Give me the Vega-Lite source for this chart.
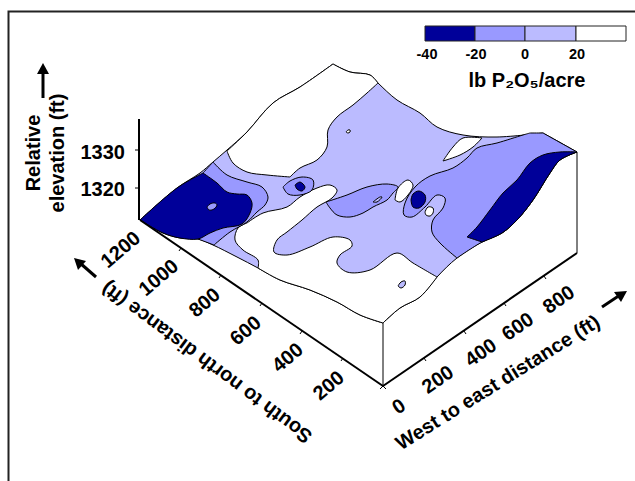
{"$schema":"https://vega.github.io/schema/vega-lite/v6.json","width":635,"height":481,"padding":0,"autosize":{"type":"none"},"background":"white","view":{"stroke":null},
"datasets":{
"regions":[
{"r":"surface","l":"0","n":0,"x":140,"y":220},{"r":"surface","l":"0","n":0.5,"x":140,"y":220},{"r":"surface","l":"0","n":1,"x":177,"y":188},{"r":"surface","l":"0","n":2,"x":200,"y":173},{"r":"surface","l":"0","n":3,"x":213,"y":162},{"r":"surface","l":"0","n":4,"x":227,"y":150},{"r":"surface","l":"0","n":5,"x":247,"y":132},{"r":"surface","l":"0","n":6,"x":273,"y":103},{"r":"surface","l":"0","n":7,"x":300,"y":87},{"r":"surface","l":"0","n":8,"x":333,"y":64},{"r":"surface","l":"0","n":8.5,"x":333,"y":64},{"r":"surface","l":"0","n":9,"x":350,"y":72},{"r":"surface","l":"0","n":10,"x":370,"y":75},{"r":"surface","l":"0","n":11,"x":378,"y":83},{"r":"surface","l":"0","n":12,"x":397,"y":100},{"r":"surface","l":"0","n":13,"x":420,"y":113},{"r":"surface","l":"0","n":14,"x":437,"y":127},{"r":"surface","l":"0","n":15,"x":463,"y":135},{"r":"surface","l":"0","n":16,"x":497,"y":137},{"r":"surface","l":"0","n":17,"x":543,"y":133},{"r":"surface","l":"0","n":17.5,"x":543,"y":133},{"r":"surface","l":"0","n":18,"x":577,"y":152},{"r":"surface","l":"0","n":18.5,"x":577,"y":152},{"r":"surface","l":"0","n":19,"x":560,"y":160},{"r":"surface","l":"0","n":20,"x":550,"y":173},{"r":"surface","l":"0","n":21,"x":533,"y":200},{"r":"surface","l":"0","n":22,"x":517,"y":220},{"r":"surface","l":"0","n":23,"x":502,"y":233},{"r":"surface","l":"0","n":24,"x":482,"y":242},{"r":"surface","l":"0","n":25,"x":457,"y":258},{"r":"surface","l":"0","n":26,"x":437,"y":277},{"r":"surface","l":"0","n":27,"x":420,"y":297},{"r":"surface","l":"0","n":28,"x":400,"y":308},{"r":"surface","l":"0","n":29,"x":383,"y":323},{"r":"surface","l":"0","n":29.5,"x":383,"y":323},{"r":"surface","l":"0","n":30,"x":360,"y":315},{"r":"surface","l":"0","n":31,"x":337,"y":302},{"r":"surface","l":"0","n":32,"x":310,"y":290},{"r":"surface","l":"0","n":33,"x":280,"y":280},{"r":"surface","l":"0","n":34,"x":258,"y":268},{"r":"surface","l":"0","n":35,"x":237,"y":257},{"r":"surface","l":"0","n":36,"x":213,"y":245},{"r":"surface","l":"0","n":37,"x":198,"y":239},{"r":"surface","l":"0","n":38,"x":180,"y":238},{"r":"surface","l":"0","n":39,"x":163,"y":233},{"r":"surface","l":"0","n":40,"x":140,"y":220},
{"r":"backwhite","l":"20","n":0,"x":227,"y":151},{"r":"backwhite","l":"20","n":0.5,"x":227,"y":151},{"r":"backwhite","l":"20","n":1,"x":233,"y":163},{"r":"backwhite","l":"20","n":2,"x":247,"y":172},{"r":"backwhite","l":"20","n":3,"x":267,"y":175},{"r":"backwhite","l":"20","n":4,"x":290,"y":177},{"r":"backwhite","l":"20","n":4.5,"x":290,"y":177},{"r":"backwhite","l":"20","n":5,"x":300,"y":168},{"r":"backwhite","l":"20","n":6,"x":317,"y":160},{"r":"backwhite","l":"20","n":7,"x":327,"y":147},{"r":"backwhite","l":"20","n":8,"x":328,"y":130},{"r":"backwhite","l":"20","n":9,"x":337,"y":117},{"r":"backwhite","l":"20","n":10,"x":353,"y":105},{"r":"backwhite","l":"20","n":11,"x":367,"y":93},{"r":"backwhite","l":"20","n":12,"x":378,"y":83},{"r":"backwhite","l":"20","n":12.5,"x":378,"y":83},{"r":"backwhite","l":"20","n":13,"x":370,"y":75},{"r":"backwhite","l":"20","n":14,"x":350,"y":72},{"r":"backwhite","l":"20","n":15,"x":333,"y":64},{"r":"backwhite","l":"20","n":15.5,"x":333,"y":64},{"r":"backwhite","l":"20","n":16,"x":300,"y":87},{"r":"backwhite","l":"20","n":17,"x":273,"y":103},{"r":"backwhite","l":"20","n":18,"x":247,"y":132},{"r":"backwhite","l":"20","n":19,"x":227,"y":151},
{"r":"frontwhite","l":"20","n":0,"x":247,"y":223},{"r":"frontwhite","l":"20","n":0.5,"x":247,"y":223},{"r":"frontwhite","l":"20","n":1,"x":263,"y":213},{"r":"frontwhite","l":"20","n":2,"x":287,"y":207},{"r":"frontwhite","l":"20","n":3,"x":300,"y":197},{"r":"frontwhite","l":"20","n":4,"x":317,"y":188},{"r":"frontwhite","l":"20","n":5,"x":330,"y":185},{"r":"frontwhite","l":"20","n":6,"x":337,"y":190},{"r":"frontwhite","l":"20","n":7,"x":332,"y":198},{"r":"frontwhite","l":"20","n":8,"x":317,"y":207},{"r":"frontwhite","l":"20","n":9,"x":302,"y":220},{"r":"frontwhite","l":"20","n":10,"x":287,"y":232},{"r":"frontwhite","l":"20","n":11,"x":277,"y":240},{"r":"frontwhite","l":"20","n":12,"x":274,"y":252},{"r":"frontwhite","l":"20","n":13,"x":287,"y":255},{"r":"frontwhite","l":"20","n":14,"x":310,"y":247},{"r":"frontwhite","l":"20","n":15,"x":333,"y":237},{"r":"frontwhite","l":"20","n":16,"x":350,"y":240},{"r":"frontwhite","l":"20","n":17,"x":352,"y":246},{"r":"frontwhite","l":"20","n":18,"x":340,"y":255},{"r":"frontwhite","l":"20","n":19,"x":337,"y":263},{"r":"frontwhite","l":"20","n":20,"x":347,"y":272},{"r":"frontwhite","l":"20","n":21,"x":370,"y":270},{"r":"frontwhite","l":"20","n":22,"x":397,"y":253},{"r":"frontwhite","l":"20","n":23,"x":413,"y":263},{"r":"frontwhite","l":"20","n":24,"x":437,"y":277},{"r":"frontwhite","l":"20","n":24.5,"x":437,"y":277},{"r":"frontwhite","l":"20","n":25,"x":420,"y":297},{"r":"frontwhite","l":"20","n":26,"x":400,"y":308},{"r":"frontwhite","l":"20","n":27,"x":383,"y":323},{"r":"frontwhite","l":"20","n":27.5,"x":383,"y":323},{"r":"frontwhite","l":"20","n":28,"x":360,"y":315},{"r":"frontwhite","l":"20","n":29,"x":337,"y":302},{"r":"frontwhite","l":"20","n":30,"x":310,"y":290},{"r":"frontwhite","l":"20","n":31,"x":280,"y":280},{"r":"frontwhite","l":"20","n":32,"x":258,"y":268},{"r":"frontwhite","l":"20","n":32.5,"x":258,"y":268},{"r":"frontwhite","l":"20","n":33,"x":258,"y":260},{"r":"frontwhite","l":"20","n":34,"x":243,"y":250},{"r":"frontwhite","l":"20","n":35,"x":235,"y":240},{"r":"frontwhite","l":"20","n":36,"x":238,"y":228},{"r":"frontwhite","l":"20","n":37,"x":247,"y":223},
{"r":"westmedium","l":"-20","n":0,"x":203,"y":173},{"r":"westmedium","l":"-20","n":0.5,"x":203,"y":173},{"r":"westmedium","l":"-20","n":1,"x":213,"y":162},{"r":"westmedium","l":"-20","n":1.5,"x":213,"y":162},{"r":"westmedium","l":"-20","n":2,"x":227,"y":175},{"r":"westmedium","l":"-20","n":3,"x":247,"y":182},{"r":"westmedium","l":"-20","n":4,"x":262,"y":187},{"r":"westmedium","l":"-20","n":5,"x":268,"y":197},{"r":"westmedium","l":"-20","n":6,"x":265,"y":205},{"r":"westmedium","l":"-20","n":7,"x":257,"y":212},{"r":"westmedium","l":"-20","n":8,"x":247,"y":222},{"r":"westmedium","l":"-20","n":9,"x":230,"y":232},{"r":"westmedium","l":"-20","n":10,"x":214,"y":245},{"r":"westmedium","l":"-20","n":10.5,"x":214,"y":245},{"r":"westmedium","l":"-20","n":11,"x":198,"y":239},{"r":"westmedium","l":"-20","n":11.5,"x":198,"y":239},{"r":"westmedium","l":"-20","n":12,"x":203,"y":173},
{"r":"westdark","l":"-40","n":0,"x":140,"y":220},{"r":"westdark","l":"-40","n":0.5,"x":140,"y":220},{"r":"westdark","l":"-40","n":1,"x":177,"y":188},{"r":"westdark","l":"-40","n":2,"x":203,"y":173},{"r":"westdark","l":"-40","n":2.5,"x":203,"y":173},{"r":"westdark","l":"-40","n":3,"x":217,"y":183},{"r":"westdark","l":"-40","n":4,"x":227,"y":192},{"r":"westdark","l":"-40","n":5,"x":237,"y":194},{"r":"westdark","l":"-40","n":6,"x":247,"y":195},{"r":"westdark","l":"-40","n":7,"x":252,"y":203},{"r":"westdark","l":"-40","n":8,"x":250,"y":213},{"r":"westdark","l":"-40","n":9,"x":242,"y":224},{"r":"westdark","l":"-40","n":10,"x":223,"y":228},{"r":"westdark","l":"-40","n":11,"x":210,"y":233},{"r":"westdark","l":"-40","n":12,"x":198,"y":239},{"r":"westdark","l":"-40","n":13,"x":180,"y":238},{"r":"westdark","l":"-40","n":14,"x":163,"y":233},{"r":"westdark","l":"-40","n":15,"x":140,"y":220},
{"r":"westeye","l":"-20","n":0,"x":207,"y":207},{"r":"westeye","l":"-20","n":1,"x":210,"y":204},{"r":"westeye","l":"-20","n":2,"x":215,"y":203},{"r":"westeye","l":"-20","n":3,"x":217,"y":205},{"r":"westeye","l":"-20","n":4,"x":214,"y":209},{"r":"westeye","l":"-20","n":5,"x":209,"y":210},{"r":"westeye","l":"-20","n":6,"x":207,"y":207},
{"r":"ring","l":"-20","n":0,"x":283,"y":187},{"r":"ring","l":"-20","n":1,"x":290,"y":181},{"r":"ring","l":"-20","n":2,"x":302,"y":177},{"r":"ring","l":"-20","n":3,"x":313,"y":180},{"r":"ring","l":"-20","n":4,"x":312,"y":190},{"r":"ring","l":"-20","n":5,"x":300,"y":195},{"r":"ring","l":"-20","n":6,"x":288,"y":194},{"r":"ring","l":"-20","n":7,"x":283,"y":187},
{"r":"ringdark","l":"-40","n":0,"x":295,"y":185},{"r":"ringdark","l":"-40","n":1,"x":300,"y":182},{"r":"ringdark","l":"-40","n":2,"x":305,"y":187},{"r":"ringdark","l":"-40","n":3,"x":302,"y":191},{"r":"ringdark","l":"-40","n":4,"x":297,"y":189},{"r":"ringdark","l":"-40","n":5,"x":295,"y":185},
{"r":"midmedium","l":"-20","n":0,"x":326,"y":202},{"r":"midmedium","l":"-20","n":1,"x":347,"y":195},{"r":"midmedium","l":"-20","n":2,"x":367,"y":187},{"r":"midmedium","l":"-20","n":3,"x":387,"y":184},{"r":"midmedium","l":"-20","n":4,"x":398,"y":187},{"r":"midmedium","l":"-20","n":5,"x":393,"y":193},{"r":"midmedium","l":"-20","n":6,"x":387,"y":200},{"r":"midmedium","l":"-20","n":7,"x":373,"y":207},{"r":"midmedium","l":"-20","n":8,"x":363,"y":213},{"r":"midmedium","l":"-20","n":9,"x":350,"y":217},{"r":"midmedium","l":"-20","n":10,"x":337,"y":215},{"r":"midmedium","l":"-20","n":11,"x":330,"y":208},{"r":"midmedium","l":"-20","n":12,"x":326,"y":202},
{"r":"midsliver","l":"0","n":0,"x":373,"y":202},{"r":"midsliver","l":"0","n":1,"x":380,"y":197},{"r":"midsliver","l":"0","n":2,"x":382,"y":197},{"r":"midsliver","l":"0","n":3,"x":377,"y":202},{"r":"midsliver","l":"0","n":4,"x":373,"y":202},
{"r":"eastmedium","l":"-20","n":0,"x":530,"y":133},{"r":"eastmedium","l":"-20","n":1,"x":523,"y":135},{"r":"eastmedium","l":"-20","n":2,"x":497,"y":143},{"r":"eastmedium","l":"-20","n":3,"x":477,"y":148},{"r":"eastmedium","l":"-20","n":4,"x":467,"y":158},{"r":"eastmedium","l":"-20","n":5,"x":453,"y":168},{"r":"eastmedium","l":"-20","n":6,"x":430,"y":176},{"r":"eastmedium","l":"-20","n":7,"x":415,"y":187},{"r":"eastmedium","l":"-20","n":8,"x":405,"y":203},{"r":"eastmedium","l":"-20","n":9,"x":404,"y":215},{"r":"eastmedium","l":"-20","n":10,"x":412,"y":217},{"r":"eastmedium","l":"-20","n":11,"x":425,"y":207},{"r":"eastmedium","l":"-20","n":12,"x":437,"y":195},{"r":"eastmedium","l":"-20","n":13,"x":445,"y":198},{"r":"eastmedium","l":"-20","n":14,"x":443,"y":208},{"r":"eastmedium","l":"-20","n":15,"x":433,"y":220},{"r":"eastmedium","l":"-20","n":16,"x":432,"y":232},{"r":"eastmedium","l":"-20","n":17,"x":440,"y":243},{"r":"eastmedium","l":"-20","n":18,"x":457,"y":258},{"r":"eastmedium","l":"-20","n":18.5,"x":457,"y":258},{"r":"eastmedium","l":"-20","n":19,"x":482,"y":242},{"r":"eastmedium","l":"-20","n":20,"x":502,"y":233},{"r":"eastmedium","l":"-20","n":21,"x":517,"y":220},{"r":"eastmedium","l":"-20","n":22,"x":533,"y":200},{"r":"eastmedium","l":"-20","n":23,"x":550,"y":173},{"r":"eastmedium","l":"-20","n":24,"x":560,"y":160},{"r":"eastmedium","l":"-20","n":25,"x":577,"y":152},{"r":"eastmedium","l":"-20","n":25.5,"x":577,"y":152},{"r":"eastmedium","l":"-20","n":26,"x":543,"y":133},{"r":"eastmedium","l":"-20","n":26.5,"x":543,"y":133},{"r":"eastmedium","l":"-20","n":27,"x":530,"y":133},
{"r":"eastdark","l":"-40","n":0,"x":467,"y":237},{"r":"eastdark","l":"-40","n":0.5,"x":467,"y":237},{"r":"eastdark","l":"-40","n":1,"x":477,"y":227},{"r":"eastdark","l":"-40","n":2,"x":490,"y":210},{"r":"eastdark","l":"-40","n":3,"x":503,"y":193},{"r":"eastdark","l":"-40","n":4,"x":517,"y":180},{"r":"eastdark","l":"-40","n":5,"x":530,"y":163},{"r":"eastdark","l":"-40","n":6,"x":543,"y":155},{"r":"eastdark","l":"-40","n":7,"x":560,"y":152},{"r":"eastdark","l":"-40","n":8,"x":577,"y":152},{"r":"eastdark","l":"-40","n":8.5,"x":577,"y":152},{"r":"eastdark","l":"-40","n":9,"x":560,"y":160},{"r":"eastdark","l":"-40","n":10,"x":550,"y":173},{"r":"eastdark","l":"-40","n":11,"x":533,"y":200},{"r":"eastdark","l":"-40","n":12,"x":517,"y":220},{"r":"eastdark","l":"-40","n":13,"x":502,"y":233},{"r":"eastdark","l":"-40","n":14,"x":482,"y":242},{"r":"eastdark","l":"-40","n":14.5,"x":482,"y":242},{"r":"eastdark","l":"-40","n":15,"x":467,"y":237},
{"r":"lens","l":"20","n":0,"x":443,"y":161},{"r":"lens","l":"20","n":0.5,"x":443,"y":161},{"r":"lens","l":"20","n":1,"x":453,"y":147},{"r":"lens","l":"20","n":2,"x":463,"y":138},{"r":"lens","l":"20","n":3,"x":482,"y":138},{"r":"lens","l":"20","n":3.5,"x":482,"y":138},{"r":"lens","l":"20","n":4,"x":473,"y":147},{"r":"lens","l":"20","n":5,"x":460,"y":155},{"r":"lens","l":"20","n":6,"x":443,"y":161},
{"r":"speck","l":"20","n":0,"x":346,"y":132},{"r":"speck","l":"20","n":1,"x":348,"y":130},{"r":"speck","l":"20","n":2,"x":350,"y":130},{"r":"speck","l":"20","n":3,"x":350,"y":132},{"r":"speck","l":"20","n":4,"x":348,"y":133},{"r":"speck","l":"20","n":5,"x":346,"y":132},
{"r":"oval","l":"20","n":0,"x":395,"y":200},{"r":"oval","l":"20","n":1,"x":398,"y":188},{"r":"oval","l":"20","n":2,"x":408,"y":180},{"r":"oval","l":"20","n":3,"x":413,"y":185},{"r":"oval","l":"20","n":4,"x":408,"y":195},{"r":"oval","l":"20","n":5,"x":400,"y":202},{"r":"oval","l":"20","n":6,"x":395,"y":200},
{"r":"ovaldark","l":"-40","n":0,"x":411,"y":200},{"r":"ovaldark","l":"-40","n":1,"x":413,"y":194},{"r":"ovaldark","l":"-40","n":2,"x":419,"y":191},{"r":"ovaldark","l":"-40","n":3,"x":425,"y":195},{"r":"ovaldark","l":"-40","n":4,"x":425,"y":202},{"r":"ovaldark","l":"-40","n":5,"x":419,"y":208},{"r":"ovaldark","l":"-40","n":6,"x":413,"y":207},{"r":"ovaldark","l":"-40","n":7,"x":411,"y":200},
{"r":"dot","l":"20","n":0,"x":425,"y":212},{"r":"dot","l":"20","n":1,"x":428,"y":207},{"r":"dot","l":"20","n":2,"x":433,"y":208},{"r":"dot","l":"20","n":3,"x":433,"y":213},{"r":"dot","l":"20","n":4,"x":430,"y":216},{"r":"dot","l":"20","n":5,"x":426,"y":215},{"r":"dot","l":"20","n":6,"x":425,"y":212},
{"r":"frontdrop","l":"0","n":0,"x":398,"y":286},{"r":"frontdrop","l":"0","n":1,"x":401,"y":282},{"r":"frontdrop","l":"0","n":2,"x":405,"y":281},{"r":"frontdrop","l":"0","n":3,"x":405,"y":285},{"r":"frontdrop","l":"0","n":4,"x":401,"y":288},{"r":"frontdrop","l":"0","n":5,"x":398,"y":286}
],
"edges":[
{"e":"corner","n":0,"x":383,"y":323},{"e":"corner","n":1,"x":383,"y":386},
{"e":"east","n":0,"x":577,"y":152},{"e":"east","n":1,"x":577,"y":253}
],
"axes":[
{"e":"elev","n":0,"x":139,"y":119},{"e":"elev","n":1,"x":139,"y":220},
{"e":"sn","n":0,"x":140,"y":220},{"e":"sn","n":1,"x":383,"y":386},
{"e":"we","n":0,"x":383,"y":386},{"e":"we","n":1,"x":577,"y":253}
],
"ticks":[
{"e":"t1330","n":0,"x":139,"y":150},{"e":"t1330","n":1,"x":135,"y":150},
{"e":"t1320","n":0,"x":139,"y":188},{"e":"t1320","n":1,"x":135,"y":188},
{"e":"sn1000","n":0,"x":181,"y":248},{"e":"sn1000","n":1,"x":179,"y":251},
{"e":"sn800","n":0,"x":221,"y":275},{"e":"sn800","n":1,"x":219,"y":278},
{"e":"sn600","n":0,"x":262,"y":303},{"e":"sn600","n":1,"x":260,"y":306},
{"e":"sn400","n":0,"x":302,"y":331},{"e":"sn400","n":1,"x":300,"y":334},
{"e":"sn200","n":0,"x":343,"y":358},{"e":"sn200","n":1,"x":341,"y":361},
{"e":"sn0","n":0,"x":383,"y":386},{"e":"sn0","n":1,"x":380,"y":389},
{"e":"we0","n":0,"x":383,"y":386},{"e":"we0","n":1,"x":386,"y":389},
{"e":"we200","n":0,"x":424,"y":358},{"e":"we200","n":1,"x":426,"y":361},
{"e":"we400","n":0,"x":464,"y":331},{"e":"we400","n":1,"x":466,"y":334},
{"e":"we600","n":0,"x":504,"y":303},{"e":"we600","n":1,"x":506,"y":306},
{"e":"we800","n":0,"x":544,"y":276},{"e":"we800","n":1,"x":546,"y":279}
],
"arrows":[
{"e":"up","n":0,"x":43,"y":98},{"e":"up","n":1,"x":43,"y":72},
{"e":"nw","n":0,"x":96,"y":277},{"e":"nw","n":1,"x":80,"y":263},
{"e":"ne","n":0,"x":602,"y":307},{"e":"ne","n":1,"x":620,"y":295}
],
"heads":[
{"e":"up","n":0,"x":43,"y":63},{"e":"up","n":1,"x":49,"y":74},{"e":"up","n":2,"x":37,"y":74},{"e":"up","n":3,"x":43,"y":63},
{"e":"nw","n":0,"x":74,"y":258},{"e":"nw","n":1,"x":86,"y":261},{"e":"nw","n":2,"x":78,"y":270},{"e":"nw","n":3,"x":74,"y":258},
{"e":"ne","n":0,"x":627,"y":291},{"e":"ne","n":1,"x":621,"y":302},{"e":"ne","n":2,"x":614,"y":292},{"e":"ne","n":3,"x":627,"y":291}
],
"legend":[
{"l":"-40","x":425,"x2":475,"y":26,"y2":41},{"l":"-20","x":475,"x2":525,"y":26,"y2":41},{"l":"0","x":525,"x2":576,"y":26,"y2":41},{"l":"20","x":576,"x2":626,"y":26,"y2":41}
],
"frame":[{"x":8.5,"x2":640,"y":11.5,"y2":500}]
},
"layer":[
{"data":{"name":"frame"},"mark":{"type":"rect","fill":"white","stroke":"#222222","strokeWidth":2},"encoding":{"x":{"field":"x","type":"quantitative","scale":{"domain":[0,635],"nice":false,"zero":false},"axis":null},"x2":{"field":"x2"},"y":{"field":"y","type":"quantitative","scale":{"domain":[481,0],"nice":false,"zero":false},"axis":null},"y2":{"field":"y2"}}},
{"data":{"name":"regions"},"mark":{"type":"line","filled":true,"stroke":"black","strokeWidth":1,"interpolate":"catmull-rom"},"encoding":{"x":{"field":"x","type":"quantitative"},"y":{"field":"y","type":"quantitative"},"detail":{"field":"r"},"order":{"field":"n","type":"quantitative"},"color":{"field":"l","type":"nominal","scale":{"domain":["-40","-20","0","20"],"range":["#000099","#9999FF","#BBBBFF","#FFFFFF"]},"legend":null}}},
{"data":{"name":"edges"},"mark":{"type":"line","color":"black","strokeWidth":1},"encoding":{"x":{"field":"x","type":"quantitative"},"y":{"field":"y","type":"quantitative"},"detail":{"field":"e"},"order":{"field":"n","type":"quantitative"}}},
{"data":{"name":"axes"},"mark":{"type":"line","color":"black","strokeWidth":2},"encoding":{"x":{"field":"x","type":"quantitative"},"y":{"field":"y","type":"quantitative"},"detail":{"field":"e"},"order":{"field":"n","type":"quantitative"}}},
{"data":{"name":"ticks"},"mark":{"type":"line","color":"black","strokeWidth":1},"encoding":{"x":{"field":"x","type":"quantitative"},"y":{"field":"y","type":"quantitative"},"detail":{"field":"e"},"order":{"field":"n","type":"quantitative"}}},
{"data":{"name":"arrows"},"mark":{"type":"line","color":"black","strokeWidth":3},"encoding":{"x":{"field":"x","type":"quantitative"},"y":{"field":"y","type":"quantitative"},"detail":{"field":"e"},"order":{"field":"n","type":"quantitative"}}},
{"data":{"name":"heads"},"mark":{"type":"line","filled":true,"color":"black"},"encoding":{"x":{"field":"x","type":"quantitative"},"y":{"field":"y","type":"quantitative"},"detail":{"field":"e"},"order":{"field":"n","type":"quantitative"}}},
{"data":{"name":"legend"},"mark":{"type":"rect","stroke":"#222222","strokeWidth":1},"encoding":{"x":{"field":"x","type":"quantitative"},"x2":{"field":"x2"},"y":{"field":"y","type":"quantitative"},"y2":{"field":"y2"},"color":{"field":"l","type":"nominal","legend":null}}},
{"data":{"values":[{"x":427,"y":55,"t":"-40"},{"x":476,"y":55,"t":"-20"},{"x":525,"y":55,"t":"0"},{"x":577,"y":55,"t":"20"}]},"mark":{"type":"text","font":"Liberation Sans","fontWeight":"bold","fontSize":14.5,"color":"black"},"encoding":{"x":{"field":"x","type":"quantitative"},"y":{"field":"y","type":"quantitative"},"text":{"field":"t"}}},
{"data":{"values":[{"x":527,"y":81,"t":"lb P₂O₅/acre"}]},"mark":{"type":"text","font":"Liberation Sans","fontWeight":"bold","fontSize":20,"color":"black"},"encoding":{"x":{"field":"x","type":"quantitative"},"y":{"field":"y","type":"quantitative"},"text":{"field":"t"}}},
{"data":{"values":[{"x":125,"y":153,"t":"1330"},{"x":125,"y":190,"t":"1320"}]},"mark":{"type":"text","align":"right","font":"Liberation Sans","fontWeight":"bold","fontSize":20,"color":"black"},"encoding":{"x":{"field":"x","type":"quantitative"},"y":{"field":"y","type":"quantitative"},"text":{"field":"t"}}},
{"data":{"values":[{"x":34,"y":153,"t":"Relative"},{"x":58,"y":153,"t":"elevation (ft)"}]},"mark":{"type":"text","angle":270,"font":"Liberation Sans","fontWeight":"bold","fontSize":20,"color":"black"},"encoding":{"x":{"field":"x","type":"quantitative"},"y":{"field":"y","type":"quantitative"},"text":{"field":"t"}}},
{"data":{"values":[{"x":121,"y":250,"t":"1200"},{"x":159,"y":278,"t":"1000"},{"x":205,"y":303,"t":"800"},{"x":246,"y":331,"t":"600"},{"x":288,"y":358,"t":"400"},{"x":329,"y":386,"t":"200"}]},"mark":{"type":"text","angle":320,"font":"Liberation Sans","fontWeight":"bold","fontSize":20,"color":"black"},"encoding":{"x":{"field":"x","type":"quantitative"},"y":{"field":"y","type":"quantitative"},"text":{"field":"t"}}},
{"data":{"values":[{"x":207,"y":362,"t":"South to north distance (ft)"}]},"mark":{"type":"text","angle":216.6,"font":"Liberation Sans","fontWeight":"bold","fontSize":20,"color":"black"},"encoding":{"x":{"field":"x","type":"quantitative"},"y":{"field":"y","type":"quantitative"},"text":{"field":"t"}}},
{"data":{"values":[{"x":399,"y":407,"t":"0"},{"x":438,"y":380,"t":"200"},{"x":481,"y":353,"t":"400"},{"x":518,"y":327,"t":"600"},{"x":559,"y":300,"t":"800"}]},"mark":{"type":"text","angle":325,"font":"Liberation Sans","fontWeight":"bold","fontSize":20,"color":"black"},"encoding":{"x":{"field":"x","type":"quantitative"},"y":{"field":"y","type":"quantitative"},"text":{"field":"t"}}},
{"data":{"values":[{"x":498,"y":383,"t":"West to east distance (ft)"}]},"mark":{"type":"text","angle":328,"font":"Liberation Sans","fontWeight":"bold","fontSize":20,"color":"black"},"encoding":{"x":{"field":"x","type":"quantitative"},"y":{"field":"y","type":"quantitative"},"text":{"field":"t"}}}
],
"resolve":{"scale":{"x":"shared","y":"shared"}}
}
